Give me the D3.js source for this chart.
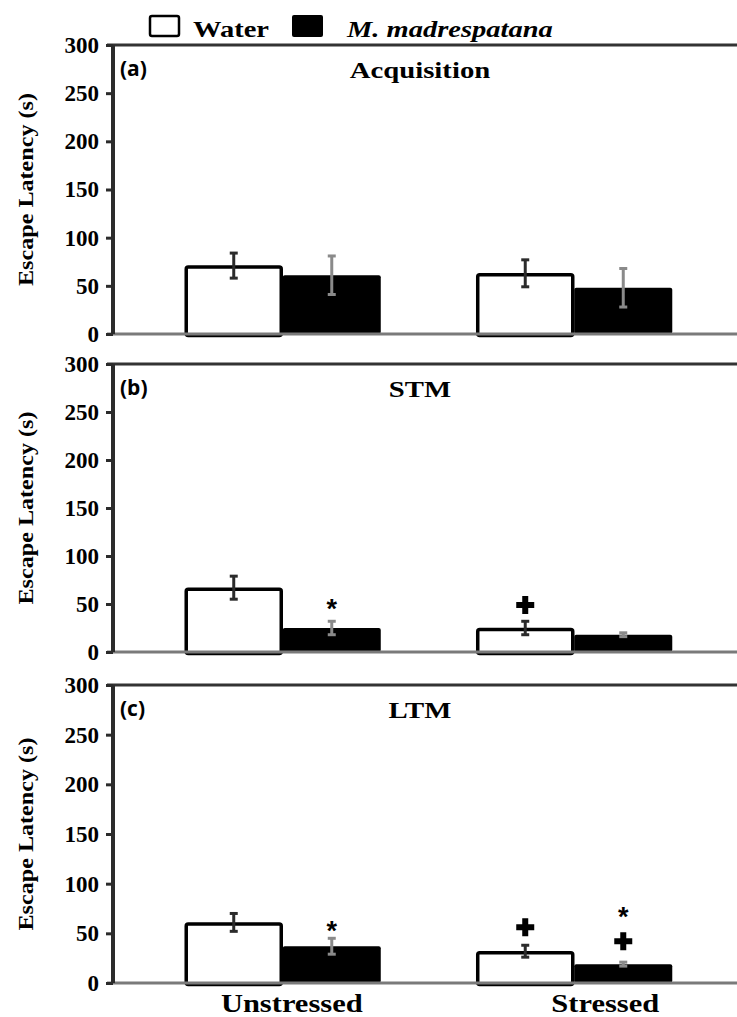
<!DOCTYPE html>
<html>
<head>
<meta charset="utf-8">
<script src="https://cdn.jsdelivr.net/npm/d3@7"></script>
<style>
  body { margin: 0; background: #fff; }
  svg { display: block; }
</style>
</head>
<body>
<div class="static-image"></div>
<script>
var categories = ["Unstressed", "Stressed"];
var seriesNames = ["Water", "M. madrespatana"];
var panelLabels = ["(a)", "(b)", "(c)"];
var panelTitles = ["Acquisition", "STM", "LTM"];
var waterMeans = [[71, 63], [67, 25], [61, 32]];
var waterErrors = [[13, 14], [12, 7], [9, 6]];
var extractMeans = [[61, 48], [25, 18], [37, 19]];
var extractErrors = [[20, 20], [7, 2], [8, 2]];
var yTicks = [0, 50, 100, 150, 200, 250, 300];
// significance marks: panel, category, series, symbol, value where the mark sits
var markPanels = [1, 1, 2, 2, 2, 2];
var markCats = [0, 1, 0, 1, 1, 1];
var markSeries = [1, 0, 1, 0, 1, 1];
var markSymbols = ["*", "+", "*", "+", "*", "+"];
var markValues = [51, 49, 58, 56, 72, 42];

var width = 737;
var height = 1017;
var axisLeft = 113;
var plotRight = 737;
var panelBox = [
    {"top": 45, "bottom": 334},
    {"top": 364, "bottom": 652},
    {"top": 685, "bottom": 983}
];
var catLabelShift = [9, 31];
var serif = "'Liberation Serif', 'Times New Roman', serif";

var svg = d3.select(".static-image")
    .append("svg")
    .attr("width", width)
    .attr("height", height);

var x0 = d3.scaleBand()
    .domain(categories)
    .range([137, 720])
    .padding(0);

var x1 = d3.scaleBand()
    .domain(seriesNames)
    .range([0, x0.bandwidth()])
    .paddingInner(0)
    .paddingOuter(0.487);

addLegend();
panelBox.forEach(function (box, p) {
    drawPanel(box, p);
});
addCategoryLabels();

// bold serif text, widened a little like the original
function wideText(parent, x, y, size, sx, anchor, str, italic) {
    return parent.append("text")
        .attr("transform", "translate(" + x + "," + y + ") scale(" + sx + ",1)")
        .attr("text-anchor", anchor)
        .style("font-family", serif)
        .style("font-weight", "bold")
        .style("font-style", italic ? "italic" : "normal")
        .style("font-size", size + "px")
        .text(str);
}

function addLegend() {
    var g = svg.append("g");
    g.append("rect")
        .attr("x", 150).attr("y", 16).attr("width", 29).attr("height", 20)
        .attr("rx", 2)
        .attr("fill", "#fff").attr("stroke", "#000").attr("stroke-width", 2.5);
    wideText(g, 193, 37, 23, 1.24, "start", seriesNames[0], false);
    g.append("rect")
        .attr("x", 292).attr("y", 15).attr("width", 31).attr("height", 22)
        .attr("rx", 2)
        .attr("fill", "#000");
    wideText(g, 347, 37, 23, 1.24, "start", seriesNames[1], true);
}

function drawPanel(box, p) {
    var y = d3.scaleLinear()
        .domain([0, 300])
        .range([box.bottom, box.top]);

    var g = svg.append("g");

    // top frame line
    g.append("line")
        .attr("x1", axisLeft - 6).attr("x2", plotRight)
        .attr("y1", box.top).attr("y2", box.top)
        .attr("stroke", "#333").attr("stroke-width", 3);

    // bars
    var rows = [];
    categories.forEach(function (c, i) {
        rows.push({cat: c, s: 0, mean: waterMeans[p][i], err: waterErrors[p][i]});
        rows.push({cat: c, s: 1, mean: extractMeans[p][i], err: extractErrors[p][i]});
    });

    g.selectAll("rect.bar")
        .data(rows)
        .enter()
        .append("rect")
        .classed("bar", true)
        .attr("x", function (d) { return x0(d.cat) + x1(seriesNames[d.s]) + (d.s == 0 ? 1.5 : 0); })
        .attr("y", function (d) { return y(d.mean) + (d.s == 0 ? 1.5 : 0); })
        .attr("width", function (d) { return x1.bandwidth() - (d.s == 0 ? 3 : 0); })
        .attr("height", function (d) { return y(0) - y(d.mean); })
        .attr("rx", 2)
        .attr("fill", function (d) { return d.s == 0 ? "#fff" : "#000"; })
        .attr("stroke", function (d) { return d.s == 0 ? "#000" : "none"; })
        .attr("stroke-width", 3.5);

    // error bars
    var errG = g.selectAll("g.err")
        .data(rows)
        .enter()
        .append("g")
        .classed("err", true)
        .attr("stroke", function (d) { return d.s == 0 ? "#2b2b2b" : "#8a8a8a"; })
        .attr("stroke-width", 3);
    function cx(d) { return x0(d.cat) + x1(seriesNames[d.s]) + x1.bandwidth() / 2; }
    errG.append("line")
        .attr("x1", cx).attr("x2", cx)
        .attr("y1", function (d) { return y(d.mean + d.err); })
        .attr("y2", function (d) { return y(d.mean - d.err); });
    errG.append("line")
        .attr("x1", function (d) { return cx(d) - 4; }).attr("x2", function (d) { return cx(d) + 4; })
        .attr("y1", function (d) { return y(d.mean + d.err); })
        .attr("y2", function (d) { return y(d.mean + d.err); });
    errG.append("line")
        .attr("x1", function (d) { return cx(d) - 4; }).attr("x2", function (d) { return cx(d) + 4; })
        .attr("y1", function (d) { return y(d.mean - d.err); })
        .attr("y2", function (d) { return y(d.mean - d.err); });

    // baseline
    g.append("line")
        .attr("x1", axisLeft - 6).attr("x2", plotRight)
        .attr("y1", y(0)).attr("y2", y(0))
        .attr("stroke", "#7a7a7a").attr("stroke-width", 3);

    // y axis
    var axis = d3.axisLeft(y)
        .tickValues(yTicks)
        .tickSize(7)
        .tickPadding(7);
    var ax = g.append("g")
        .attr("transform", "translate(" + axisLeft + ",0)")
        .call(axis);
    ax.select(".domain")
        .attr("stroke", "#2b2b2b").attr("stroke-width", 4)
        .attr("d", "M0," + box.top + "V" + box.bottom);
    ax.selectAll(".tick line")
        .attr("stroke", "#2b2b2b").attr("stroke-width", 3);
    ax.selectAll(".tick text")
        .attr("fill", "#000")
        .style("font-family", serif).style("font-weight", "bold").style("font-size", "23px");

    // y title
    g.append("text")
        .attr("transform", "translate(33," + (box.top + box.bottom) / 2 + ") rotate(-90) scale(1.15,1)")
        .attr("text-anchor", "middle")
        .style("font-family", serif).style("font-weight", "bold").style("font-size", "21px")
        .text("Escape Latency (s)");

    // panel label and title
    g.append("text")
        .attr("x", 120).attr("y", box.top + 31)
        .style("font-family", "'Open Sans', 'Liberation Sans', sans-serif").style("font-weight", "bold")
        .style("font-size", "21px")
        .text(panelLabels[p]);
    wideText(g, 420, box.top + 33, 23, 1.25, "middle", panelTitles[p], false);

    // significance marks
    markPanels.forEach(function (mp, k) {
        if (mp != p) return;
        var d = {cat: categories[markCats[k]], s: markSeries[k]};
        var mx = cx(d);
        var my = y(markValues[k]);
        if (markSymbols[k] == "*") {
            g.append("text")
                .attr("x", mx).attr("y", my + 15)
                .attr("text-anchor", "middle")
                .style("font-family", "'Liberation Sans', Arial, sans-serif").style("font-weight", "bold")
                .style("font-size", "27px")
                .text("*");
        } else {
            g.append("path")
                .attr("d", "M" + (mx - 9) + "," + my + "H" + (mx + 9) + "M" + mx + "," + (my - 9) + "V" + (my + 9))
                .attr("stroke", "#000").attr("stroke-width", 6);
        }
    });
}

function addCategoryLabels() {
    var g = svg.append("g");
    categories.forEach(function (c, i) {
        wideText(g, x0(c) + x0.bandwidth() / 2 + catLabelShift[i], 1012, 25, 1.22, "middle", c, false);
    });
}
</script>
</body>
</html>
